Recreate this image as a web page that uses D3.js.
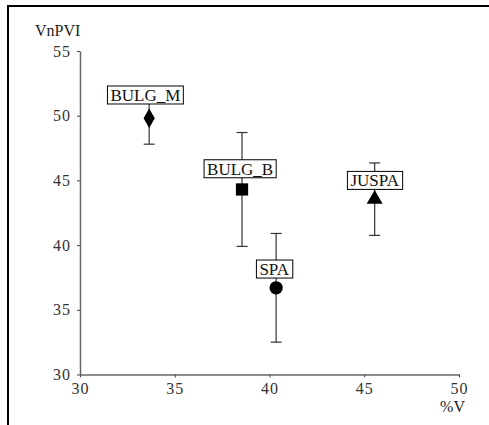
<!DOCTYPE html>
<meta charset="utf-8">
<script src="https://d3js.org/d3.v7.min.js"></script>
<style>
  body { margin: 0; background: #fff; }
</style>
<div id="my_dataviz"></div>
<script>

// data
var groups = ["BULG_M", "BULG_B", "SPA", "JUSPA"];
var pctV   = [33.65, 38.55, 40.35, 45.55];
var vnpvi  = [49.8, 44.3, 36.7, 43.55];
var errs   = [2.0, 4.4, 4.2, 2.8];
var shapes = [d3.symbolDiamond, d3.symbolSquare, d3.symbolCircle, d3.symbolTriangle];
var xTicks = [30, 35, 40, 45, 50];
var yTicks = [30, 35, 40, 45, 50, 55];

var width = 489, height = 425;
var serif = "'Liberation Serif', 'DejaVu Serif', Tinos, 'Nimbus Roman', FreeSerif, Times, serif";

var svg = d3.select("#my_dataviz")
    .append("svg")
    .attr("width", width)
    .attr("height", height)
    .attr("font-family", serif);

// frame (only top and left edges are in view)
svg.append("path")
    .attr("d", "M8,425 V6 H489")
    .attr("fill", "none")
    .attr("stroke", "#000")
    .attr("stroke-width", 2);

var x = d3.scaleLinear().domain([30, 50]).range([80, 459]);
var y = d3.scaleLinear().domain([30, 55]).range([374.5, 51]);

// X axis
svg.append("g")
    .attr("transform", "translate(0," + y(30) + ")")
    .call(d3.axisBottom(x).tickValues(xTicks).tickSize(3).tickPadding(5).tickSizeOuter(0))
    .attr("font-family", serif);

// Y axis
svg.append("g")
    .attr("transform", "translate(" + x(30) + ",0)")
    .call(d3.axisLeft(y).tickValues(yTicks).tickSize(3).tickPadding(6).tickSizeOuter(0))
    .attr("font-family", serif);

svg.selectAll(".domain").attr("stroke", "#666").attr("stroke-width", 1.5);
svg.selectAll(".tick line").attr("stroke", "#444");
svg.selectAll(".tick text")
    .style("font-size", "16px")
    .style("letter-spacing", "1px")
    .attr("fill", "#333");

// axis titles
svg.append("text")
    .attr("x", 35).attr("y", 36)
    .style("font-size", "16px")
    .attr("fill", "#222")
    .text("VnPVI");

svg.append("text")
    .attr("x", 465).attr("y", 412)
    .attr("text-anchor", "end")
    .style("font-size", "16px")
    .attr("fill", "#222")
    .text("%V");

// error bars
var cap = 5.5;
groups.forEach(function(g, i) {
    var cx = x(pctV[i]);
    var top = y(vnpvi[i] + errs[i]), bot = y(vnpvi[i] - errs[i]);
    var eb = svg.append("g").attr("stroke", "#333").attr("stroke-width", 1.2);
    eb.append("line").attr("x1", cx).attr("x2", cx).attr("y1", top).attr("y2", bot);
    eb.append("line").attr("x1", cx - cap).attr("x2", cx + cap).attr("y1", top).attr("y2", top);
    eb.append("line").attr("x1", cx - cap).attr("x2", cx + cap).attr("y1", bot).attr("y2", bot);
});

// markers
var sizes = [110, 150, 140, 110];
svg.append("g")
    .selectAll("path")
    .data(groups)
    .enter()
    .append("path")
    .attr("d", function(d, i) { return d3.symbol().type(shapes[i]).size(sizes[i])(); })
    .attr("transform", function(d, i) {
        return "translate(" + x(pctV[i]) + "," + y(vnpvi[i]) + ")";
    })
    .attr("fill", "#000");

// label boxes, placed relative to each point
var labelDx = [-0.2, -0.1, -0.1, 0];
var labelDy = [1.8, 1.6, 1.45, 1.45];
groups.forEach(function(g, i) {
    var lx = x(pctV[i] + labelDx[i]);
    var ly = y(vnpvi[i] + labelDy[i]);
    var lg = svg.append("g");
    var t = lg.append("text")
        .attr("x", lx).attr("y", ly + 6)
        .attr("text-anchor", "middle")
        .style("font-size", "17px")
        .attr("fill", "#111")
        .text(g);
    var bb = t.node().getBBox();
    lg.insert("rect", "text")
        .attr("x", bb.x - 3).attr("y", ly - 9)
        .attr("width", bb.width + 6).attr("height", 18)
        .attr("fill", "#fff")
        .attr("stroke", "#000")
        .attr("stroke-width", 1);
});

</script>
